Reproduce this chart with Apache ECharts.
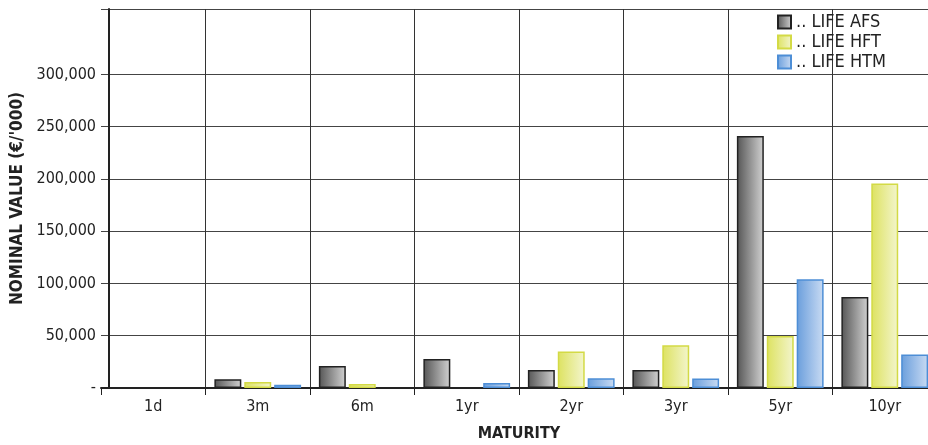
<!DOCTYPE html>
<html>
<head>
<meta charset="utf-8">
<script src="https://cdn.jsdelivr.net/npm/echarts@6/dist/echarts.min.js"></script>
<style>
html, body { margin: 0; padding: 0; background: #fff; }
#main { width: 928px; height: 445px; }
</style>
</head>
<body>
<div id="main"></div>
<script>
// categories (maturity buckets)
var maturities = ['1d', '3m', '6m', '1yr', '2yr', '3yr', '5yr', '10yr'];
// nominal value (€/'000), null = no bar
var lifeAfs = [null, 8300, 21000, 27800, 17200, 17200, 241000, 87100];
var lifeHft = [null, 5700, 3800, null, 34800, 40900, 49800, 195700];
var lifeHtm = [null, 3200, null, 4800, 9300, 9000, 104000, 32000];
var seriesNames = ['.. LIFE AFS', '.. LIFE HFT', '.. LIFE HTM'];
var yTicks = [0, 50000, 100000, 150000, 200000, 250000, 300000];

var FONT = '"DejaVu Sans Condensed", "DejaVu Sans", sans-serif';

function grad(c1, c2) {
    return new echarts.graphic.LinearGradient(0, 0, 1, 0, [
        {offset: 0, color: c1},
        {offset: 1, color: c2}
    ]);
}

var chart = echarts.init(document.getElementById('main'));
var option = {
    animation: false,
    backgroundColor: '#fff',
    textStyle: {fontFamily: FONT},
    grid: {
        left: 101,
        right: -9,
        top: 9,
        bottom: 57,
        containLabel: false,
        outerBoundsMode: 'none'
    },
    legend: {
        orient: 'vertical',
        left: 777,
        top: 13,
        padding: 0,
        itemWidth: 13,
        itemHeight: 13,
        itemGap: 2,
        icon: 'rect',
        textStyle: {fontFamily: FONT, fontSize: 18, lineHeight: 18, color: '#222', padding: [0, 0, 0, 0]},
        data: seriesNames
    },
    xAxis: {
        type: 'category',
        data: maturities,
        axisLine: {lineStyle: {color: '#222', width: 2}},
        axisTick: {show: true, length: 7, lineStyle: {color: '#222', width: 1}},
        axisLabel: {fontFamily: FONT, fontSize: 16, color: '#222', margin: 11},
        splitLine: {show: true, showMinLine: false, lineStyle: {color: '#333', width: 1}},
        name: 'MATURITY',
        nameLocation: 'middle',
        nameGap: 38,
        nameTextStyle: {fontFamily: FONT, fontSize: 16, fontWeight: 'bold', color: '#222'}
    },
    yAxis: {
        type: 'value',
        min: 0,
        max: 362500,
        interval: 50000,
        offset: -8,
        axisLine: {show: true, lineStyle: {color: '#222', width: 2}},
        axisTick: {show: false},
        axisLabel: {
            fontFamily: FONT, fontSize: 16, color: '#222', margin: 13,
            formatter: function(v) {
                if (v == 0) return '-';
                if (yTicks.indexOf(v) < 0) return '';
                return v.toLocaleString('en-US');
            }
        },
        splitLine: {
            show: true,
            lineStyle: {
                color: ['#333', '#444', '#444', '#444', '#444', '#444', '#444', 'rgba(0,0,0,0)', '#444'],
                width: 1
            }
        },
        name: "NOMINAL VALUE (€/'000)",
        nameLocation: 'middle',
        nameRotate: 90,
        nameGap: 82,
        nameTextStyle: {fontFamily: FONT, fontSize: 17, fontWeight: 'bold', color: '#222'}
    },
    series: [
        {
            name: seriesNames[0],
            type: 'bar',
            data: lifeAfs,
            barGap: '11%',
            barCategoryGap: '17%',
            itemStyle: {color: grad('#555', '#d2d2d2'), borderColor: '#222', borderWidth: 1.5}
        },
        {
            name: seriesNames[1],
            type: 'bar',
            data: lifeHft,
            itemStyle: {color: grad('#dde260', '#f3f5cd'), borderColor: '#d3da45', borderWidth: 1.5}
        },
        {
            name: seriesNames[2],
            type: 'bar',
            data: lifeHtm,
            itemStyle: {color: grad('#6a9edc', '#c9dbf3'), borderColor: '#4d8ed6', borderWidth: 1.5}
        }
    ]
};
chart.setOption(option);
</script>
</body>
</html>
